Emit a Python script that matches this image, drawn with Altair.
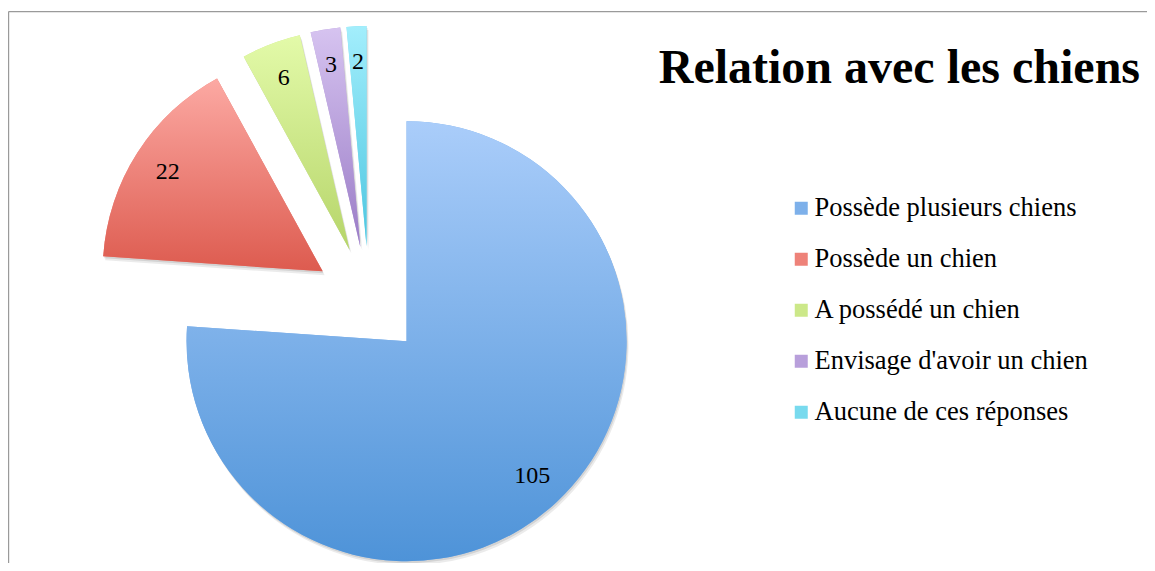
import math
import altair as alt
import pandas as pd

# ---- data ----
categories = [
    "Possède plusieurs chiens",
    "Possède un chien",
    "A possédé un chien",
    "Envisage d'avoir un chien",
    "Aucune de ces réponses",
]
values = [105, 22, 6, 3, 2]
order = [0, 1, 2, 3, 4]
title_text = ["Relation avec les chiens"]

# ---- styles ----
top_colors = ["#AACDFA", "#FCA9A3", "#E3FAA9", "#D6C3F0", "#A3EEFC"]
bottom_colors = ["#4E93D8", "#DD5B4F", "#B6D56A", "#9A7CC6", "#4CC6E0"]
mid_colors = ["#7DB0EA", "#EE8279", "#CCE889", "#B89FDB", "#78DAEE"]

W, H = 1139, 552
CX, CY = 361, 290        # pie centre inside the plot area
RADIUS = 220
EXPLODE = 55
LABEL_R = 184
SERIF = "Liberation Serif"

total = sum(values)
df = pd.DataFrame({"cat": categories, "value": values, "idx": order})
one = pd.DataFrame({"t": title_text})

base = (
    alt.Chart(df)
    .transform_joinaggregate(total="sum(value)")
    .transform_window(cum="sum(value)", sort=[alt.SortField("idx", order="ascending")], frame=[None, 0])
    .transform_calculate(
        start="datum.cum - datum.value",
        end="datum.cum",
    )
    .transform_calculate(mid="(datum.start + datum.end) / 2 / datum.total * 2 * PI")
    .transform_calculate(
        cx=f"{CX} + {EXPLODE} * sin(datum.mid)",
        cy=f"{CY} - {EXPLODE} * cos(datum.mid)",
    )
    .transform_calculate(
        lx=f"datum.cx + {LABEL_R} * sin(datum.mid)",
        ly=f"datum.cy - {LABEL_R} * cos(datum.mid)",
    )
)

theta_scale = alt.Scale(domain=[0, total], range=[0, 2 * math.pi])
pos = dict(
    x=alt.X("cx:Q", scale=None),
    y=alt.Y("cy:Q", scale=None),
    theta=alt.Theta("start:Q", scale=theta_scale),
    theta2="end:Q",
)

# shadow layers
shadow1 = base.mark_arc(radius=RADIUS, fill="#000000", opacity=0.10, xOffset=1, yOffset=2).encode(**pos)
shadow2 = base.mark_arc(radius=RADIUS, fill="#000000", opacity=0.08, xOffset=2, yOffset=4).encode(**pos)

# base layer carries the legend
legend_layer = base.mark_arc(radius=RADIUS).encode(
    color=alt.Color(
        "cat:N",
        scale=alt.Scale(domain=categories, range=mid_colors),
        sort=categories,
        legend=alt.Legend(
            title=None,
            orient="none",
            legendX=780,
            legendY=184,
            symbolType="square",
            symbolSize=169,
            symbolStrokeWidth=0,
            labelFont=SERIF,
            labelFontSize=26.5,
            labelColor="#000000",
            labelOffset=0,
            rowPadding=24,
            padding=0,
            labelLimit=400,
        ),
    ),
    **pos,
)

slices = []
for cat, top, bot in zip(categories, top_colors, bottom_colors):
    grad = alt.Gradient(
        gradient="linear",
        stops=[alt.GradientStop(color=top, offset=0), alt.GradientStop(color=bot, offset=1)],
        x1=0, x2=0, y1=0, y2=1,
    )
    slices.append(
        base.transform_filter(alt.datum.cat == cat)
        .mark_arc(radius=RADIUS, fill=grad)
        .encode(**pos)
    )

labels = base.mark_text(font=SERIF, fontSize=24, color="#000000", align="center", baseline="middle").encode(
    x=alt.X("lx:Q", scale=None),
    y=alt.Y("ly:Q", scale=None),
    text="value:Q",
)

border_top = alt.Chart(one).mark_rule(color="#9a9a9a", strokeWidth=1.2).encode(
    x=alt.value(0.6), x2=alt.value(W), y=alt.value(0.6)
)
border_left = alt.Chart(one).mark_rule(color="#9a9a9a", strokeWidth=1.2).encode(
    x=alt.value(0.6), y=alt.value(0.6), y2=alt.value(H)
)

title = alt.Chart(one).mark_text(
    font=SERIF, fontSize=48, fontWeight="bold",
    color="#000000", align="right", baseline="alphabetic",
).encode(text="t:N", x=alt.value(1132), y=alt.value(72))

chart = alt.layer(
    border_top, border_left, shadow2, shadow1, legend_layer, *slices, labels, title
).properties(
    width=W, height=H, padding={"left": 0, "top": 3, "right": 0, "bottom": 0},
    autosize=alt.AutoSizeParams(type="none"),
).configure_view(stroke=None)

chart.save("out.html", embed_options={"renderer": "svg", "actions": False})
